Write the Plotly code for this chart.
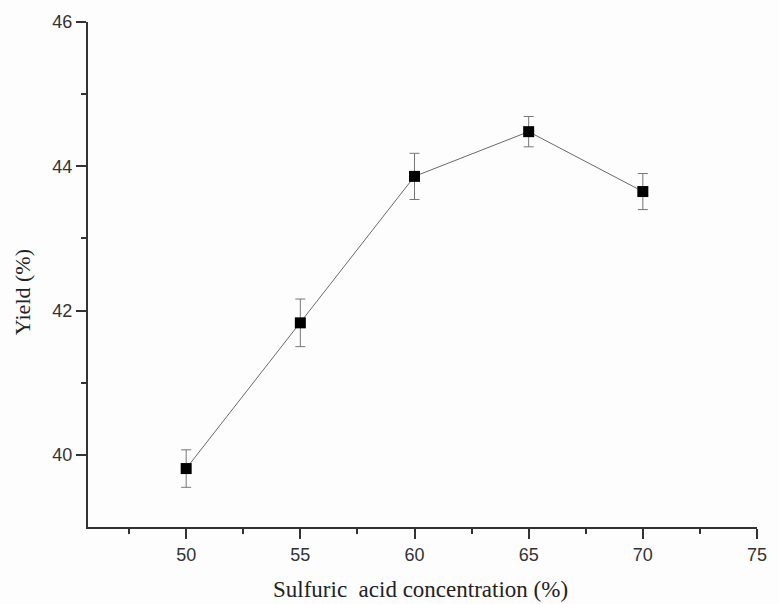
import plotly.graph_objects as go

concentration = [50, 55, 60, 65, 70]
yield_pct = [39.81, 41.83, 43.86, 44.48, 43.65]
yield_err = [0.26, 0.33, 0.32, 0.21, 0.25]

x_ticks = [50, 55, 60, 65, 70, 75]
y_ticks = [40, 42, 44, 46]

fig = go.Figure()
fig.add_trace(go.Scatter(
    x=concentration, y=yield_pct,
    mode="lines+markers",
    line=dict(color="#6a6a6a", width=1),
    marker=dict(symbol="square", size=11, color="#000000"),
    error_y=dict(type="data", array=yield_err, visible=True,
                 color="#777777", thickness=1, width=5),
    showlegend=False,
))

axis_common = dict(
    showgrid=False, zeroline=False, showline=True, linecolor="#333333", linewidth=2,
    ticks="outside", ticklen=10, tickwidth=2, tickcolor="#333333",
    tickfont=dict(family="Liberation Sans, Arial, sans-serif", size=18, color="#333333"),
    mirror=False,
)

fig.update_layout(
    width=779, height=604,
    margin=dict(l=88, r=12, t=19, b=77),
    paper_bgcolor="#fdfdfd", plot_bgcolor="#fdfdfd",
    xaxis=dict(range=[45.7, 75], tickvals=x_ticks, **axis_common,
               minor=dict(tickvals=[47.5, 52.5, 57.5, 62.5, 67.5, 72.5], ticklen=5,
                          tickwidth=2, tickcolor="#333333", ticks="outside")),
    yaxis=dict(range=[39, 46], tickvals=y_ticks, **axis_common,
               minor=dict(tickvals=[41, 43, 45], ticklen=5,
                          tickwidth=2, tickcolor="#333333", ticks="outside")),
    annotations=[
        dict(text="Sulfuric\u00a0 acid concentration (%)", xref="paper", yref="paper",
             x=0.497, y=0, yshift=-62, showarrow=False, xanchor="center", yanchor="middle",
             font=dict(family="Liberation Serif, Times New Roman, serif", size=23, color="#222222")),
        dict(text="Yield (%)", xref="paper", yref="paper", textangle=-90,
             x=0, xshift=-66, y=0.465, showarrow=False, xanchor="center", yanchor="middle",
             font=dict(family="Liberation Serif, Times New Roman, serif", size=22, color="#222222")),
    ],
)

fig.write_html("out.html")
